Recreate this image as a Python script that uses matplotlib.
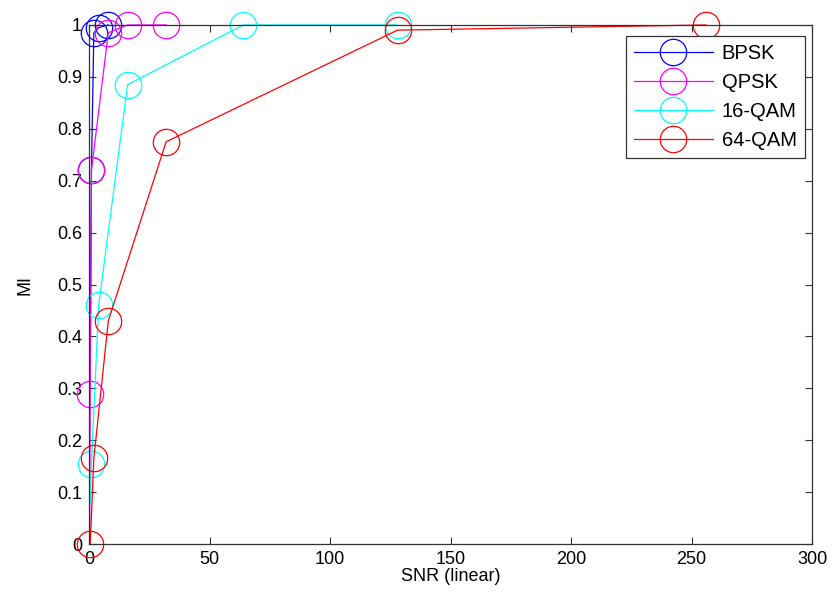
import matplotlib
matplotlib.use("Agg")
import matplotlib.pyplot as plt

plt.rcParams['font.family'] = ['Liberation Sans', 'DejaVu Sans']

# SNR (linear) and MI values per modulation
bpsk_snr = [0.5, 1, 2, 4, 8]
bpsk_mi = [0.35, 0.72, 0.985, 0.995, 1.0]
qpsk_snr = [0.25, 0.5, 1, 8, 16, 32]
qpsk_mi = [0.02, 0.29, 0.72, 0.985, 1.0, 1.0]
qam16_snr = [0.5, 1, 4, 16, 64, 128]
qam16_mi = [0.08, 0.155, 0.46, 0.885, 1.0, 1.0]
qam64_snr = [0.5, 2, 8, 32, 128, 256]
qam64_mi = [0.0, 0.165, 0.43, 0.775, 0.99, 1.0]

labels = ["BPSK", "QPSK", "16-QAM", "64-QAM"]
colors = ["#0000ff", "#ff00ff", "#00ffff", "#ff0000"]

fig = plt.figure(figsize=(8.32, 5.94), dpi=100)
ax = fig.add_axes([0.107, 0.084, 0.869, 0.874])

series = [(bpsk_snr, bpsk_mi, slice(1, None)),
          (qpsk_snr, qpsk_mi, slice(1, None)),
          (qam16_snr, qam16_mi, slice(1, None)),
          (qam64_snr, qam64_mi, None)]

for (x, y, me), lab, c in zip(series, labels, colors):
    ax.plot(x, y, color=c, lw=0.9, marker='o', markersize=19,
            markerfacecolor='none', markeredgecolor=c, markeredgewidth=0.9,
            markevery=me, label=lab, clip_on=False)

ax.set_xlim(0, 300)
ax.set_ylim(0, 1)
ax.set_xticks(range(0, 301, 50))
ax.set_yticks([i / 10 for i in range(11)])
ax.set_yticklabels(["0", "0.1", "0.2", "0.3", "0.4", "0.5", "0.6", "0.7", "0.8", "0.9", "1"])
ax.tick_params(direction='in', top=True, right=True, labelsize=13, length=5,
               color='#333333', pad=5)
for s in ax.spines.values():
    s.set_color('#333333')
    s.set_linewidth(0.9)

ax.set_xlabel("SNR (linear)", fontsize=13, labelpad=0)
ax.set_ylabel("MI", fontsize=13, labelpad=17)

leg = ax.legend(loc='upper right', bbox_to_anchor=(0.99, 0.979), borderaxespad=0,
                fontsize=14.5, fancybox=False, framealpha=1, edgecolor='#333333',
                handlelength=3.9, borderpad=0.4, labelspacing=0.5,
                handletextpad=0.45)
leg.get_frame().set_linewidth(0.9)

fig.savefig("out.png", dpi=100)
